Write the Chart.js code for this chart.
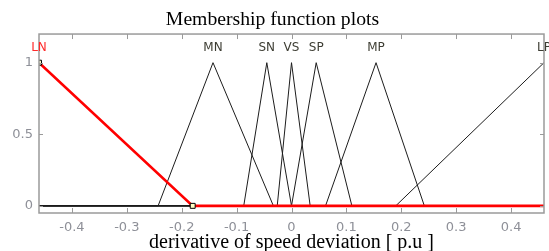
<!DOCTYPE html>
<html>
<head>
<meta charset="utf-8">
<script src="https://cdn.jsdelivr.net/npm/chart.js@4/dist/chart.umd.min.js"></script>
<style>
  html, body { margin: 0; padding: 0; background: #fff; }
  #wrap { width: 549px; height: 251px; }
</style>
</head>
<body>
<div id="wrap"><canvas id="mf-chart"></canvas></div>
<script>
const xMin = -0.46;
const xMax = 0.46;
const xTicks = [-0.4, -0.3, -0.2, -0.1, 0, 0.1, 0.2, 0.3, 0.4];
const yTicks = [0, 0.5, 1];

const mfNames = ["LN", "MN", "SN", "VS", "SP", "MP", "LP"];
const mfLeft = [-0.46, -0.243, -0.087, -0.026, 0.0, 0.062, 0.19];
const mfPeak = [-0.46, -0.143, -0.045, 0.0, 0.045, 0.154, 0.46];
const mfRight = [-0.18, -0.033, 0.0, 0.034, 0.11, 0.242, 0.46];

const tickFont = { family: "DejaVu Sans", size: 13 };
const tickColor = "#8e9098";
const boxColor = "#9a9a9a";

const buildPoints = (i) => {
  let pts = [];
  if (mfLeft[i] > xMin) {
    pts.push({ x: xMin, y: 0 });
    pts.push({ x: mfLeft[i], y: 0 });
  }
  pts.push({ x: mfPeak[i], y: 1 });
  if (mfRight[i] < xMax) {
    pts.push({ x: mfRight[i], y: 0 });
    pts.push({ x: xMax, y: 0 });
  }
  return pts;
};

const datasets = mfNames.map((name, i) => {
  const pts = buildPoints(i);
  const selected = i === 0;
  return {
    label: name,
    data: pts,
    borderColor: selected ? "#ff0000" : "#1c1c1c",
    borderWidth: selected ? 2.6 : 1,
    tension: 0,
    pointStyle: "rect",
    pointRadius: selected ? pts.map((p, k) => (k < pts.length - 1 ? 3.5 : 0)) : 0,
    pointBackgroundColor: "#ffffc4",
    pointBorderColor: "#000000",
    pointBorderWidth: 1,
  };
});

// box around the plot, inside ticks, MF names
const boxPlugin = {
  id: "box",
  afterDraw: (chart) => {
    const ctx = chart.ctx;
    const area = chart.chartArea;
    const xs = chart.scales.x;
    const ys = chart.scales.y;
    ctx.save();
    ctx.strokeStyle = boxColor;
    ctx.lineWidth = 1.5;
    ctx.strokeRect(area.left, area.top, area.right - area.left, area.bottom - area.top);
    ctx.lineWidth = 1;
    ctx.beginPath();
    xTicks.forEach((v) => {
      const px = Math.round(xs.getPixelForValue(v)) + 0.5;
      ctx.moveTo(px, area.top);
      ctx.lineTo(px, area.top + 5);
      ctx.moveTo(px, area.bottom);
      ctx.lineTo(px, area.bottom - 5);
    });
    yTicks.forEach((v) => {
      const py = Math.round(ys.getPixelForValue(v)) + 0.5;
      ctx.moveTo(area.left, py);
      ctx.lineTo(area.left + 4, py);
      ctx.moveTo(area.right, py);
      ctx.lineTo(area.right - 4, py);
    });
    ctx.stroke();

    ctx.font = "12px 'DejaVu Sans'";
    ctx.textAlign = "center";
    ctx.textBaseline = "middle";
    mfNames.forEach((name, i) => {
      ctx.fillStyle = i === 0 ? "#ff2a2a" : "#3d3d33";
      ctx.fillText(name, xs.getPixelForValue(mfPeak[i]), 47.5);
    });
    ctx.restore();
  },
};

const myChart = new Chart("mf-chart", {
  type: "line",
  data: { datasets: datasets },
  plugins: [boxPlugin],
  options: {
    responsive: true,
    maintainAspectRatio: false,
    animation: false,
    layout: {
      padding: { right: 4 },
    },
    scales: {
      x: {
        type: "linear",
        min: xMin,
        max: xMax,
        afterBuildTicks: (scale) => {
          scale.ticks = xTicks.map((v) => ({ value: v }));
        },
        afterFit: (scale) => {
          scale.height = 38;
        },
        ticks: {
          color: tickColor,
          font: tickFont,
          padding: 7,
          maxRotation: 0,
          callback: (value) => (value === 0 ? "0" : Number(value).toFixed(1)),
        },
        grid: { display: false, drawTicks: false },
        border: { display: false },
        title: {
          display: true,
          text: "derivative of speed deviation [ p.u ]",
          color: "#000000",
          font: { family: "Liberation Serif", size: 20, lineHeight: 0.8 },
          padding: { top: 0, bottom: 0 },
        },
      },
      y: {
        min: -0.05,
        max: 1.2,
        afterBuildTicks: (scale) => {
          scale.ticks = yTicks.map((v) => ({ value: v }));
        },
        afterFit: (scale) => {
          scale.width = 39;
        },
        ticks: {
          color: tickColor,
          font: tickFont,
          padding: 6,
          callback: (value) => String(value),
        },
        grid: { display: false, drawTicks: false },
        border: { display: false },
      },
    },
    plugins: {
      legend: { display: false },
      tooltip: { enabled: false },
      title: {
        display: true,
        text: "Membership function plots",
        color: "#000000",
        font: { family: "Liberation Serif", size: 19.7, weight: "normal", lineHeight: 1.2 },
        padding: { top: 8.2, bottom: 2.2 },
      },
    },
  },
});
</script>
</body>
</html>
